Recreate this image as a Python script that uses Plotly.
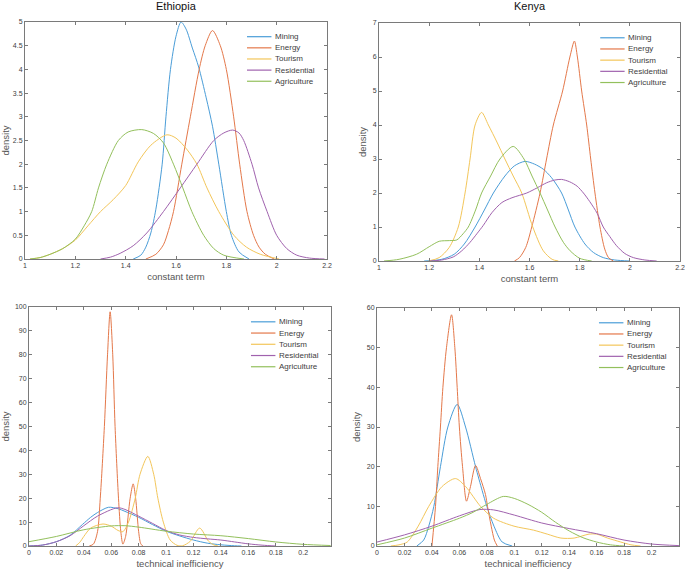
import plotly.graph_objects as go
from plotly.subplots import make_subplots

# sector names and colours (matlab default order, a bit lighter like the screenshot)
sectors = ["Mining", "Energy", "Tourism", "Residential", "Agriculture"]
colors = ["#4a9dd8", "#e4784a", "#f3c65a", "#a062ae", "#93c05c"]

# Ethiopia, constant term  (x, density)
eth_c_mining = [(1.43, 0), (1.46, 0.08), (1.48, 0.25), (1.50, 0.55), (1.52, 1.05), (1.545, 2.0), (1.56, 3.0),
                (1.578, 4.0), (1.60, 4.7), (1.62, 5.0), (1.64, 4.85), (1.665, 4.45), (1.69, 4.05), (1.72, 3.4),
                (1.745, 2.8), (1.77, 2.0), (1.80, 1.0), (1.82, 0.5), (1.85, 0.15), (1.89, 0)]
eth_c_energy = [(1.48, 0), (1.52, 0.1), (1.55, 0.3), (1.57, 0.6), (1.59, 1.0), (1.623, 2.0), (1.657, 3.0),
                (1.692, 4.0), (1.716, 4.5), (1.745, 4.82), (1.776, 4.5), (1.80, 4.0), (1.829, 3.0), (1.853, 2.0),
                (1.882, 1.0), (1.908, 0.5), (1.93, 0.25), (1.955, 0.1), (1.99, 0)]
eth_c_tourism = [(1.02, 0), (1.06, 0.03), (1.10, 0.1), (1.15, 0.22), (1.20, 0.4), (1.25, 0.7), (1.30, 1.0),
                 (1.35, 1.25), (1.40, 1.55), (1.45, 2.05), (1.50, 2.4), (1.564, 2.62), (1.60, 2.55), (1.645, 2.3),
                 (1.683, 2.0), (1.723, 1.5), (1.77, 1.0), (1.83, 0.5), (1.88, 0.25), (1.935, 0.1), (2.01, 0)]
eth_c_residential = [(1.30, 0), (1.34, 0.04), (1.378, 0.12), (1.43, 0.28), (1.484, 0.55), (1.55, 1.0),
                     (1.617, 1.5), (1.683, 2.0), (1.75, 2.5), (1.79, 2.66), (1.825, 2.72), (1.85, 2.66),
                     (1.869, 2.5), (1.902, 2.0), (1.928, 1.5), (1.962, 1.0), (2.0, 0.5), (2.04, 0.22),
                     (2.08, 0.08), (2.13, 0.02), (2.19, 0)]
eth_c_agriculture = [(1.02, 0), (1.06, 0.03), (1.10, 0.1), (1.15, 0.22), (1.20, 0.42), (1.235, 0.7),
                     (1.265, 1.0), (1.292, 1.5), (1.325, 2.0), (1.371, 2.5), (1.41, 2.68), (1.464, 2.73),
                     (1.51, 2.65), (1.55, 2.45), (1.59, 2.0), (1.627, 1.5), (1.663, 1.0), (1.71, 0.5),
                     (1.75, 0.22), (1.79, 0.08), (1.87, 0)]

# Kenya, constant term
ken_c_mining = [(1.18, 0), (1.25, 0.05), (1.30, 0.2), (1.34, 0.5), (1.383, 1.0), (1.42, 1.5), (1.456, 2.0),
                (1.502, 2.5), (1.54, 2.8), (1.582, 2.93), (1.62, 2.85), (1.655, 2.7), (1.688, 2.45), (1.728, 2.0),
                (1.755, 1.5), (1.781, 1.0), (1.821, 0.5), (1.855, 0.25), (1.894, 0.1), (1.94, 0.03), (2.0, 0)]
ken_c_energy = [(1.54, 0), (1.56, 0.1), (1.585, 0.4), (1.609, 1.0), (1.642, 2.0), (1.668, 3.0), (1.695, 4.0),
                (1.732, 5.0), (1.761, 6.0), (1.779, 6.47), (1.791, 6.0), (1.808, 5.0), (1.828, 4.0),
                (1.844, 3.0), (1.861, 2.0), (1.881, 1.0), (1.90, 0.35), (1.915, 0.1), (1.934, 0)]
ken_c_tourism = [(1.197, 0), (1.24, 0.1), (1.28, 0.4), (1.316, 1.0), (1.343, 2.0), (1.363, 3.0), (1.383, 4.0),
                 (1.409, 4.37), (1.436, 4.0), (1.47, 3.5), (1.502, 3.0), (1.535, 2.5), (1.569, 2.0),
                 (1.613, 1.0), (1.655, 0.3), (1.69, 0.05), (1.715, 0)]
ken_c_residential = [(1.20, 0), (1.25, 0.03), (1.296, 0.12), (1.33, 0.3), (1.363, 0.55), (1.39, 0.8),
                     (1.416, 1.05), (1.45, 1.42), (1.49, 1.72), (1.53, 1.86), (1.589, 2.0), (1.63, 2.15),
                     (1.668, 2.3), (1.70, 2.38), (1.728, 2.4), (1.76, 2.33), (1.79, 2.2), (1.815, 2.0),
                     (1.84, 1.75), (1.87, 1.4), (1.894, 1.0), (1.92, 0.72), (1.947, 0.45), (1.98, 0.22),
                     (2.014, 0.1), (2.06, 0.03), (2.107, 0)]
ken_c_agriculture = [(1.02, 0), (1.08, 0.05), (1.15, 0.2), (1.20, 0.42), (1.24, 0.58), (1.28, 0.6),
                     (1.31, 0.62), (1.335, 0.8), (1.356, 1.0), (1.385, 1.5), (1.409, 2.0), (1.445, 2.5),
                     (1.482, 3.0), (1.535, 3.37), (1.578, 3.0), (1.61, 2.5), (1.642, 2.0), (1.672, 1.5),
                     (1.702, 1.0), (1.735, 0.55), (1.762, 0.3), (1.80, 0.08), (1.848, 0)]

# Ethiopia, technical inefficiency
eth_t_mining = [(0, 0), (0.01, 0.4), (0.02, 1.8), (0.03, 4.5), (0.039, 9.0), (0.045, 12), (0.05, 14),
                (0.058, 16.2), (0.065, 15.6), (0.07, 14.5), (0.08, 12), (0.09, 9), (0.1, 6.2), (0.11, 4.2),
                (0.12, 2.5), (0.13, 1.2), (0.14, 0.5), (0.15, 0.1), (0.155, 0)]
eth_t_energy = [(0.044, 0), (0.047, 0.8), (0.05, 6), (0.052, 20), (0.055, 50), (0.0573, 80), (0.0592, 98),
                (0.0611, 80), (0.0628, 50), (0.0653, 20), (0.067, 6), (0.0685, 0.8), (0.0705, 4),
                (0.0738, 20), (0.076, 26), (0.0778, 20), (0.08, 6), (0.0815, 1), (0.083, 0)]
eth_t_tourism = [(0.034, 0), (0.037, 1.5), (0.04, 4), (0.045, 7.5), (0.054, 9.2), (0.06, 8.3), (0.065, 6.5),
                 (0.0685, 6.0), (0.0726, 10), (0.0775, 20), (0.081, 30), (0.0867, 37.5), (0.091, 30),
                 (0.094, 20), (0.098, 10), (0.103, 2.5), (0.108, 0.3), (0.112, 0.1), (0.1177, 2),
                 (0.1245, 7.5), (0.131, 2), (0.135, 0.4), (0.138, 0)]
eth_t_residential = [(0, 0), (0.01, 0.4), (0.02, 1.8), (0.03, 4.3), (0.04, 8.5), (0.05, 12.5), (0.0645, 16),
                     (0.07, 15.3), (0.08, 12.5), (0.09, 9.5), (0.1, 6.5), (0.11, 4.6), (0.12, 3.6),
                     (0.13, 3.0), (0.14, 2.5), (0.15, 1.7), (0.16, 0.9), (0.17, 0.35), (0.18, 0)]
eth_t_agriculture = [(0, 1.8), (0.02, 4.0), (0.04, 6.8), (0.06, 8.4), (0.07, 8.5), (0.08, 7.9), (0.1, 6.2),
                     (0.12, 5.0), (0.14, 4.3), (0.16, 3.1), (0.18, 1.7), (0.2, 0.7), (0.22, 0.2)]

# Kenya, technical inefficiency
ken_t_mining = [(0.029, 0), (0.034, 1.5), (0.0377, 5), (0.0414, 10), (0.0462, 20), (0.0516, 30),
                (0.0584, 35.7), (0.0645, 30), (0.0718, 20), (0.0766, 14), (0.08, 10), (0.0852, 5),
                (0.0912, 1), (0.0985, 0)]
ken_t_energy = [(0.04, 0), (0.0426, 10), (0.0443, 20), (0.0462, 30), (0.048, 40), (0.0506, 50),
                (0.0543, 58.3), (0.0567, 50), (0.0584, 40), (0.06, 30), (0.0623, 20), (0.0652, 11.3),
                (0.0681, 15), (0.0718, 20.3), (0.0754, 17), (0.079, 13), (0.0805, 10), (0.0832, 5),
                (0.0855, 1.5), (0.0876, 0)]
ken_t_tourism = [(0.01, 0), (0.016, 0.3), (0.022, 1), (0.030, 5), (0.0377, 10), (0.0474, 15), (0.0572, 17),
                 (0.0645, 15), (0.0754, 10), (0.085, 7), (0.0998, 5), (0.114, 4), (0.124, 3), (0.134, 2),
                 (0.1436, 2), (0.1545, 3), (0.16, 3), (0.168, 2), (0.1776, 1), (0.185, 0.3), (0.192, 0)]
ken_t_residential = [(0, 1), (0.02, 2.8), (0.04, 5), (0.06, 7.6), (0.075, 9.2), (0.085, 9.1), (0.1, 7.8),
                     (0.12, 5.8), (0.14, 4.4), (0.16, 3.1), (0.18, 1.5), (0.2, 0.5), (0.22, 0.1)]
ken_t_agriculture = [(0, 0.3), (0.02, 2), (0.04, 4.5), (0.06, 7), (0.07, 8.5), (0.08, 10.5), (0.092, 12.5),
                     (0.1, 12), (0.11, 10.5), (0.12, 8.5), (0.13, 6), (0.14, 3.8), (0.15, 2.1), (0.16, 1),
                     (0.17, 0.3), (0.18, 0)]

const_ticks = [1, 1.2, 1.4, 1.6, 1.8, 2, 2.2]
tech_ticks = [0, 0.02, 0.04, 0.06, 0.08, 0.1, 0.12, 0.14, 0.16, 0.18, 0.2]
tech_labels = ["0", "0.02", "0.04", "0.06", "0.08", "0.1", "0.12", "0.14", "0.16", "0.18", "0.2"]

panels = [
    (1, 1, [eth_c_mining, eth_c_energy, eth_c_tourism, eth_c_residential, eth_c_agriculture]),
    (1, 2, [ken_c_mining, ken_c_energy, ken_c_tourism, ken_c_residential, ken_c_agriculture]),
    (2, 1, [eth_t_mining, eth_t_energy, eth_t_tourism, eth_t_residential, eth_t_agriculture]),
    (2, 2, [ken_t_mining, ken_t_energy, ken_t_tourism, ken_t_residential, ken_t_agriculture]),
]

fig = make_subplots(rows=2, cols=2)

for row, col, series in panels:
    for name, color, pts in zip(sectors, colors, series):
        fig.add_trace(go.Scatter(
            x=[p[0] for p in pts], y=[p[1] for p in pts], name=name, mode="lines",
            line=dict(color=color, width=1, shape="spline", smoothing=0.8),
            showlegend=False, hoverinfo="skip"), row=row, col=col)

tick_font = dict(family="Liberation Sans", size=7, color="#404040")
title_font = dict(family="Liberation Sans", size=9.5, color="#555555")
box = dict(showline=True, linecolor="#7a7a7a", linewidth=1, mirror="ticks", ticks="inside", ticklen=3,
           tickcolor="#7a7a7a", showgrid=False, zeroline=False, automargin=False, tickfont=tick_font)

fig.update_layout(
    xaxis=dict(box, domain=[0.0365, 0.4774], range=[1, 2.2], tickvals=const_ticks,
               title=dict(text="constant term", font=title_font, standoff=4)),
    yaxis=dict(box, domain=[0.5456, 0.9614], range=[0, 5], dtick=0.5,
               title=dict(text="density", font=title_font, standoff=4)),
    xaxis2=dict(box, domain=[0.5533, 0.9927], range=[1, 2.2], tickvals=const_ticks,
                title=dict(text="constant term", font=title_font, standoff=4)),
    yaxis2=dict(box, domain=[0.5421, 0.9596], range=[0, 7], dtick=1,
                title=dict(text="density", font=title_font, standoff=4)),
    xaxis3=dict(box, domain=[0.0423, 0.4832], range=[0, 0.2203], tickvals=tech_ticks, ticktext=tech_labels,
                title=dict(text="technical inefficiency", font=title_font, standoff=4)),
    yaxis3=dict(box, domain=[0.0421, 0.4614], range=[0, 100], dtick=10,
                title=dict(text="density", font=title_font, standoff=4)),
    xaxis4=dict(box, domain=[0.5504, 0.9912], range=[0, 0.22], tickvals=tech_ticks, ticktext=tech_labels,
                title=dict(text="technical inefficiency", font=title_font, standoff=4)),
    yaxis4=dict(box, domain=[0.0421, 0.4596], range=[0, 60], dtick=10,
                title=dict(text="density", font=title_font, standoff=4)),
)

# panel titles
for xref, label in [("x domain", "Ethiopia"), ("x2 domain", "Kenya")]:
    fig.add_annotation(text=label, xref=xref, x=0.5, yref="paper", y=1 - 6 / 570, yanchor="middle",
                       showarrow=False, font=dict(family="Liberation Sans", size=11, color="#111111"))

# matlab style legend, drawn by hand so the rows stay tight
for k, suffix in enumerate(["", "2", "3", "4"]):
    for i, (name, color) in enumerate(zip(sectors, colors)):
        yy = 1 - 0.062 - i * 0.047
        fig.add_shape(type="line", xref=f"x{suffix} domain", yref=f"y{suffix} domain",
                      x0=0.735, x1=0.816, y0=yy, y1=yy, line=dict(color=color, width=1.2))
        fig.add_annotation(text=name, xref=f"x{suffix} domain", yref=f"y{suffix} domain", x=0.821, y=yy,
                           xanchor="left", yanchor="middle", showarrow=False,
                           font=dict(family="Liberation Sans", size=8, color="#404040"))

fig.update_layout(
    template="none", width=685, height=570, margin=dict(l=0, r=0, t=0, b=0),
    paper_bgcolor="white", plot_bgcolor="white", showlegend=False,
)

# page has a default 8px body margin, drop it so the figure sits at the window corner
fig.write_html("out.html", config={"displayModeBar": False},
               post_script="document.body.style.margin='0';")
